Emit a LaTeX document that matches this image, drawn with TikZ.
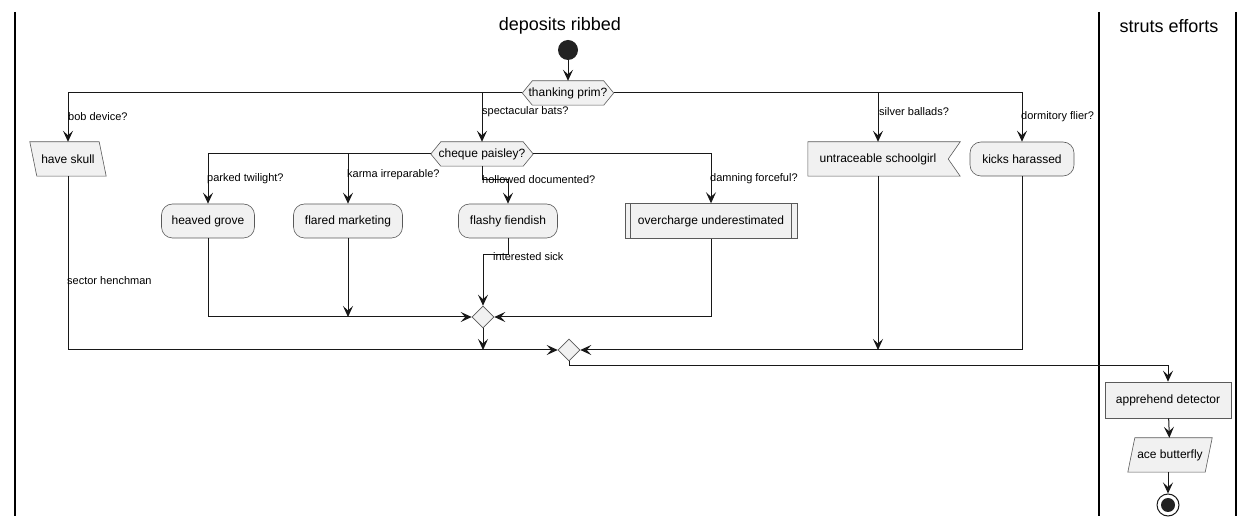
\documentclass[tikz,border=0pt]{standalone}
\usepackage{fontspec}
\setmainfont{Liberation Sans}
\usetikzlibrary{arrows.meta,backgrounds,calc,shapes.geometric}
\definecolor{nodefill}{HTML}{F1F1F1}
\definecolor{nodeborder}{HTML}{5A5A5A}
\definecolor{linecol}{HTML}{181818}
\definecolor{dotcol}{HTML}{222222}
\begin{document}
\begin{tikzpicture}[x=1pt,y=-1pt,
  line/.style={draw=linecol, line width=1pt},
  arr/.style={line, -{Stealth[length=11pt,width=10pt,inset=4.5pt]}},
  box/.style={inner sep=0pt, align=center, font=\fontsize{12}{14}\selectfont},
  lbl/.style={inner sep=0pt, anchor=west, font=\fontsize{11}{13}\selectfont},
  shp/.style={fill=nodefill, draw=nodeborder, line width=0.6pt},
  rbox/.style={box, shp, rounded corners=11pt},
  merge/.style={diamond, shp, minimum width=22pt, minimum height=22pt, inner sep=0pt},
  lane/.style={draw=black, line width=1.6pt},
  title/.style={inner sep=0pt, font=\fontsize{18}{21}\selectfont}
]
\useasboundingbox (0,0) rectangle (1254,526);
\begin{scope}[on background layer]
  \fill[white] (0,0) rectangle (1254,526);
\end{scope}

% swimlanes
\draw[lane] (15,12) -- (15,516);
\draw[lane] (1099,12) -- (1099,516);
\draw[lane] (1236,12) -- (1236,516);
\node[title] (t1) at (560,26) {deposits ribbed};
\node[title] (t2) at (1169,26) {struts efforts};

% nodes
\node[circle, fill=dotcol, minimum size=20pt, inner sep=0pt] (st) at (568,50) {};
\node[box, minimum width=91pt, minimum height=24pt] (tp) at (568,93) {thanking prim?};
\node[box, minimum width=76pt, minimum height=34pt] (hs) at (68,159) {have skull};
\node[box, minimum width=102pt, minimum height=24pt] (cp) at (482,154) {cheque paisley?};
\node[box, minimum width=140pt, minimum height=34pt] (us) at (878,159) {untraceable schoolgirl};
\node[rbox, minimum width=104pt, minimum height=34pt] (kh) at (1022,159) {kicks harassed};
\node[rbox, minimum width=93pt, minimum height=34pt] (hg) at (208,221) {heaved grove};
\node[rbox, minimum width=109pt, minimum height=34pt] (fm) at (348,221) {flared marketing};
\node[rbox, minimum width=99pt, minimum height=34pt] (ff) at (508,221) {flashy fiendish};
\node[box, minimum width=172pt, minimum height=35pt] (ou) at (711,221) {overcharge underestimated};
\node[merge] (m1) at (483,317) {};
\node[merge] (m2) at (569,350) {};
\node[box, shp, minimum width=126pt, minimum height=36pt] (ad) at (1168,400) {apprehend detector};
\node[box, minimum width=84pt, minimum height=34pt] (ab) at (1170,455) {ace butterfly};
\node[circle, draw=linecol, line width=1pt, fill=white, minimum size=22pt, inner sep=0pt] (en) at (1168,505) {};
\fill[dotcol] (en.center) circle (7pt);

% special shapes on background (drawn after the white fill)
\begin{scope}[on background layer]
  \draw[shp] (tp.west) -- ([xshift=10pt]tp.north west) -- ([xshift=-10pt]tp.north east) -- (tp.east) -- ([xshift=-10pt]tp.south east) -- ([xshift=10pt]tp.south west) -- cycle;
  \draw[shp] (cp.west) -- ([xshift=10pt]cp.north west) -- ([xshift=-10pt]cp.north east) -- (cp.east) -- ([xshift=-10pt]cp.south east) -- ([xshift=10pt]cp.south west) -- cycle;
  \draw[shp] (hs.north west) -- ([xshift=-7pt]hs.north east) -- (hs.south east) -- ([xshift=7pt]hs.south west) -- cycle;
  \draw[shp] ([xshift=7pt]ab.north west) -- (ab.north east) -- ([xshift=-7pt]ab.south east) -- (ab.south west) -- cycle;
  \draw[shp] (us.north west) -- ([xshift=12pt]us.north east) -- (us.east) -- ([xshift=12pt]us.south east) -- (us.south west) -- cycle;
  \draw[shp] (ou.north west) rectangle (ou.south east);
  \draw[shp] ([xshift=5.5pt]ou.north west) -- ([xshift=5.5pt]ou.south west);
  \draw[shp] ([xshift=-5.5pt]ou.north east) -- ([xshift=-5.5pt]ou.south east);
\end{scope}

% helper coordinates
\coordinate (hdk) at (482,180);
\coordinate (isk) at (483,255);
\coordinate (jn) at (569,366);

% connectors
\draw[arr] (st) -- (tp);
\draw[arr] (tp.west) -| (hs.north);
\draw[arr] (tp.west) -| (cp.north);
\draw[arr] (tp.east) -| (us.north);
\draw[arr] (tp.east) -| (kh.north);
\draw[arr] (cp.west) -| (hg.north);
\draw[arr] (cp.west) -| (fm.north);
\draw[arr] (cp.south) -- (hdk) -| (ff.north);
\draw[arr] (cp.east) -| (ou.north);
\draw[arr] (hg.south) |- (m1.west);
\draw[arr] (fm.south) -- (fm.south |- m1);
\draw[arr] (ff.south) |- (isk) -- (m1.north);
\draw[arr] (ou.south) |- (m1.east);
\draw[arr] (m1.south) -- (m1.south |- m2);
\draw[arr] (hs.south) |- (m2.west);
\draw[arr] (us.south) -- (us.south |- m2);
\draw[arr] (kh.south) |- (m2.east);
\draw[arr] (m2.south) -- (jn) -| (ad.north);
\draw[arr] (ad) -- (ab);
\draw[arr] (ab.south -| en) -- (en);

% labels
\node[lbl] (l1) at (68,117) {bob device?};
\node[lbl] (l2) at (482,112) {spectacular bats?};
\node[lbl] (l3) at (879,112) {silver ballads?};
\node[lbl] (l4) at (1021,117) {dormitory flier?};
\node[lbl] (l5) at (207,179) {parked twilight?};
\node[lbl] (l6) at (347,175) {karma irreparable?};
\node[lbl] (l7) at (482,180) {hollowed documented?};
\node[lbl] (l8) at (710,179) {damning forceful?};
\node[lbl] (l9) at (493,257) {interested sick};
\node[lbl] (l10) at (67,281) {sector henchman};
\end{tikzpicture}
\end{document}
